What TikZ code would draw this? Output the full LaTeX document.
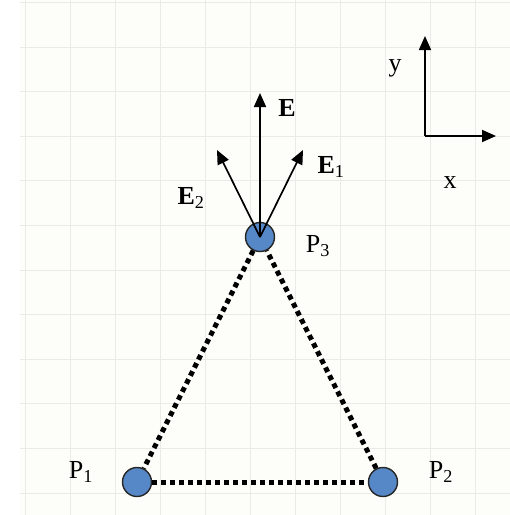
\documentclass[tikz,border=0pt]{standalone}
\usepackage{fontspec}
\setmainfont{Liberation Serif}
\usepackage{tikz}
\usetikzlibrary{positioning, calc, arrows.meta}

\definecolor{paper}{RGB}{253,253,250}
\definecolor{gridgray}{RGB}{234,234,231}
\definecolor{chargeblue}{RGB}{86,136,200}

\begin{document}
\begin{tikzpicture}[x=1pt, y=-1pt,
  charge/.style={circle, draw=black!85, line width=1.4pt, fill=chargeblue, minimum size=29pt, inner sep=0pt},
  lbl/.style={font=\fontsize{26}{30}\selectfont, inner sep=0pt},
  field/.style={line width=1.7pt, -{Triangle[length=14pt, width=12pt]}},
  bond/.style={line width=5pt, dash pattern=on 5pt off 4pt}]
  \useasboundingbox (0,0) rectangle (510,515);
  % background grid
  \fill[paper] (20,0) rectangle (510,515);
  \foreach \gx in {25,70,...,475}
    \draw[gridgray, line width=1pt] (\gx,0) -- (\gx,515);
  \foreach \k in {0,...,11}
    \draw[gridgray, line width=1pt] (20,2.4+44.6*\k) -- (510,2.4+44.6*\k);
  % charges
  \node[charge] (p3) at (260,237) {};
  \node[charge] (p1) at (137,482) {};
  \node[charge] (p2) at (383,482) {};
  \draw[bond] (p3) -- (p1);
  \draw[bond] (p1) -- (p2);
  \draw[bond] (p2) -- (p3);
  % field vectors
  \coordinate (tipE) at (260,93);
  \coordinate (tipE1) at (303,150);
  \coordinate (tipE2) at (217,150);
  \draw[field] (p3.center) -- (tipE);
  \draw[field] (p3.center) -- (tipE1);
  \draw[field] (p3.center) -- (tipE2);
  % axes
  \coordinate (orig) at (425,136);
  \coordinate (yend) at (425,36);
  \coordinate (xend) at (496,136);
  \draw[field] (orig) -- (yend);
  \draw[field] (orig) -- (xend);
  % labels
  \node[lbl] (lE) at (287,108) {\textbf{E}};
  \node[lbl] (lE1) at (331,167) {\textbf{E}\textsubscript{1}};
  \node[lbl] (lE2) at (191,198) {\textbf{E}\textsubscript{2}};
  \node[lbl] (lP3) at (318,246) {P\textsubscript{3}};
  \node[lbl] (lP1) at (81,472) {P\textsubscript{1}};
  \node[lbl] (lP2) at (441,472) {P\textsubscript{2}};
  \node[lbl] (ly) at (395,68) {y};
  \node[lbl] (lx) at (450,183) {x};
\end{tikzpicture}
\end{document}
